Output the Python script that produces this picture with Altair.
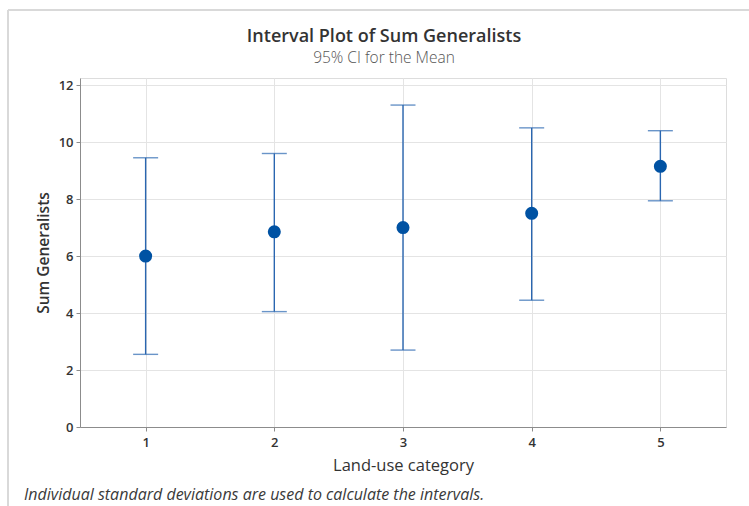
import altair as alt
import pandas as pd

# Land-use categories and the 95% confidence intervals of the mean
categories = [1, 2, 3, 4, 5]
means = [6.0, 6.85, 7.0, 7.5, 9.15]
lower = [2.55, 4.05, 2.7, 4.45, 7.94]
upper = [9.45, 9.6, 11.3, 10.5, 10.4]

title_text = "Interval Plot of Sum Generalists"
subtitle_text = "95% CI for the Mean"
footnote_text = "Individual standard deviations are used to calculate the intervals."

df = pd.DataFrame({"cat": categories, "mean": means, "lo": lower, "hi": upper})

FONT = "Open Sans"
LINE = "#2A66B0"
DOT = "#0052A3"

x = alt.X(
    "cat:Q",
    scale=alt.Scale(domain=[0.49, 5.51], nice=False, zero=False),
    axis=alt.Axis(
        values=categories, title="Land-use category", format="d",
        grid=True, gridColor="#E4E4E4", tickColor="#8C8C8C", tickSize=4,
        domainColor="#8C8C8C", labelFontSize=13, labelFontWeight=600,
        labelColor="#333333", labelPadding=5, titleFontSize=16.5,
        titleFontWeight=500, titleColor="#333333", titlePadding=8,
    ),
)
y_axis = alt.Axis(
    values=[0, 2, 4, 6, 8, 10, 12], title="Sum Generalists",
    grid=True, gridColor="#E4E4E4", tickColor="#8C8C8C", tickSize=4,
    domainColor="#8C8C8C", labelFontSize=13, labelFontWeight=600,
    labelColor="#333333", labelPadding=3, titleFontSize=15.5,
    titleFontWeight=600, titleColor="#333333", titlePadding=7,
)
yscale = alt.Scale(domain=[0, 12.25], nice=False)

base = alt.Chart(df)

bars = base.mark_rule(color=LINE, strokeWidth=1.4).encode(
    x=x, y=alt.Y("lo:Q", scale=yscale, axis=y_axis), y2="hi:Q"
)
cap_lo = base.mark_tick(orient="horizontal", size=25, thickness=1.4, color=LINE).encode(
    x="cat:Q", y="lo:Q"
)
cap_hi = base.mark_tick(orient="horizontal", size=25, thickness=1.4, color=LINE).encode(
    x="cat:Q", y="hi:Q"
)
dots = base.mark_circle(size=170, color=DOT, opacity=1).encode(x="cat:Q", y="mean:Q")

# light outer frame around the figure
frame_top = base.mark_rule(color="#D9D9D9", strokeWidth=1.5, clip=False).encode(
    x=alt.value(-72), x2=alt.value(700), y=alt.value(-68)
)
frame_left = base.mark_rule(color="#D9D9D9", strokeWidth=1.5, clip=False).encode(
    x=alt.value(-72), y=alt.value(-68), y2=alt.value(460)
)

def label(text, **kw):
    return alt.Chart(pd.DataFrame({"t": [text]})).mark_text(
        font=FONT, clip=False, **kw
    ).encode(text="t:N")

title = label(title_text, align="center", baseline="alphabetic", fontSize=18,
              fontWeight=600, color="#333333").encode(x=alt.value(304), y=alt.value(-36))
subtitle = label(subtitle_text, align="center", baseline="alphabetic", fontSize=15.5,
                 fontWeight=300, color="#555555").encode(x=alt.value(304), y=alt.value(-15))
note = label(footnote_text, align="left", baseline="middle", fontSize=16,
             fontStyle="italic", color="#3A3A3A").encode(
    x=alt.value(-56), y=alt.value(417))

chart = (
    alt.layer(frame_top, frame_left, bars, cap_lo, cap_hi, dots, title, subtitle, note)
    .properties(
        width=646,
        height=349,
        autosize=alt.AutoSizeParams(type="none"),
        padding={"left": 80, "top": 78, "right": 23, "bottom": 79},
    )
    .configure_view(stroke="#8C8C8C", strokeWidth=1.2)
    .configure(font=FONT, background="white")
)

chart.save("out.html", embed_options={"renderer": "svg", "actions": False})
